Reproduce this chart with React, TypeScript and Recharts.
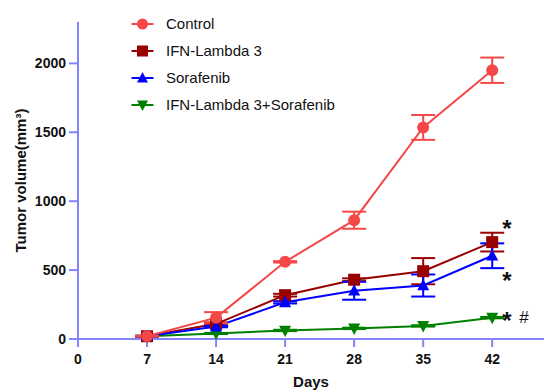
import React from "react";
import { LineChart, Line, XAxis, YAxis, ErrorBar } from "recharts";

const days = [7, 14, 21, 28, 35, 42];
const xTicks = [0, 7, 14, 21, 28, 35, 42];
const yTicks = [0, 500, 1000, 1500, 2000];

const controlMean = [20, 155, 560, 862, 1535, 1950];
const controlErr = [3, 40, 5, 62, 90, 92];
const ifnMean = [20, 110, 318, 430, 492, 703];
const ifnErr = [3, 10, 10, 10, 95, 68];
const soraMean = [20, 90, 266, 350, 388, 604];
const soraErr = [3, 5, 8, 65, 80, 90];
const comboMean = [20, 40, 62, 77, 95, 155];
const comboErr = [3, 4, 5, 5, 5, 5];

const names = ["Control", "IFN-Lambda 3", "Sorafenib", "IFN-Lambda 3+Sorafenib"];
const colors = ["#F44848", "#990000", "#0000FF", "#008000"];
const shapes = ["circle", "square", "up", "down"];
const marks = ["", "*", "*", "* #"];

const data = days.map((d, i) => ({
  day: d,
  control: controlMean[i],
  controlErr: controlErr[i],
  ifn: ifnMean[i],
  ifnErr: ifnErr[i],
  sora: soraMean[i],
  soraErr: soraErr[i],
  combo: comboMean[i],
  comboErr: comboErr[i],
}));

const FONT = "'Liberation Sans', Arial, sans-serif";
const AXIS = "#8484FF";

function Marker({ shape, cx, cy, color, s = 6 }: any) {
  if (shape === "circle") return <circle cx={cx} cy={cy} r={s} fill={color} />;
  if (shape === "square")
    return <rect x={cx - s} y={cy - s} width={2 * s} height={2 * s} fill={color} />;
  if (shape === "up")
    return (
      <polygon
        points={`${cx - s},${cy + s * 0.8} ${cx + s},${cy + s * 0.8} ${cx},${cy - s * 1.1}`}
        fill={color}
      />
    );
  return (
    <polygon
      points={`${cx - s},${cy - s * 0.8} ${cx + s},${cy - s * 0.8} ${cx},${cy + s * 1.1}`}
      fill={color}
    />
  );
}

const makeDot = (k: number) => (props: any) => (
  <Marker key={`dot-${k}-${props.index}`} shape={shapes[k]} cx={props.cx} cy={props.cy} color={colors[k]} />
);

const makeLabel = (k: number) => (props: any) => {
  if (props.index !== days.length - 1 || !marks[k]) return <g key={`lb-${k}-${props.index}`} />;
  const dyMap = [0, -17, 21, -1];
  const x = props.x + 10;
  const y = props.y + dyMap[k];
  const parts = marks[k].split(" ");
  return (
    <g key={`lb-${k}-${props.index}`}>
      <text x={x} y={y + 12} fontSize={24} fontWeight="bold" fontFamily={FONT} fill="#111">
        {parts[0]}
      </text>
      {parts[1] && (
        <text x={x + 17} y={y + 6} fontSize={17} fontFamily={FONT} fill="#111">
          {parts[1]}
        </text>
      )}
    </g>
  );
};

const seriesKeys = ["control", "ifn", "sora", "combo"];
const drawOrder = [3, 1, 2, 0];

export default function App() {
  return (
    <div style={{ position: "absolute", left: 0, top: 0, width: 544, height: 390, background: "#fff" }}>
      <LineChart
        width={544}
        height={390}
        data={data}
        margin={{ top: 22, right: 0, left: 0, bottom: 0 }}
      >
        <XAxis
          type="number"
          dataKey="day"
          domain={[0, 47.25]}
          ticks={xTicks}
          allowDataOverflow
          height={51}
          stroke={AXIS}
          strokeWidth={2}
          tickSize={8}
          tickMargin={7}
          tick={{ fill: "#111", fontSize: 14, fontWeight: "bold", fontFamily: FONT }}
          label={{
            value: "Days",
            position: "insideBottom",
            offset: 3,
            fill: "#111",
            fontSize: 15,
            fontWeight: "bold",
            fontFamily: FONT,
          }}
        />
        <YAxis
          type="number"
          domain={[0, 2300]}
          ticks={yTicks}
          width={78}
          stroke={AXIS}
          strokeWidth={2}
          tickSize={9}
          tickMargin={3}
          tick={{ fill: "#111", fontSize: 14, fontWeight: "bold", fontFamily: FONT }}
          label={{
            content: (p: any) => {
              const vb = p.viewBox || {};
              const cy = (vb.y ?? 22) + (vb.height ?? 316) / 2;
              return (
                <text
                  x={20}
                  y={cy}
                  transform={`rotate(-90 20 ${cy})`}
                  textAnchor="middle"
                  dominantBaseline="central"
                  fontSize={15}
                  fontWeight="bold"
                  fontFamily={FONT}
                  fill="#111"
                >
                  Tumor volume(mm³)
                </text>
              );
            },
          }}
        />
        {drawOrder.map((k) => (
          <Line
            key={seriesKeys[k]}
            type="linear"
            dataKey={seriesKeys[k]}
            stroke={colors[k]}
            strokeWidth={2}
            dot={makeDot(k)}
            activeDot={false}
            label={makeLabel(k)}
            isAnimationActive={false}
          >
            <ErrorBar
              dataKey={`${seriesKeys[k]}Err`}
              width={12}
              strokeWidth={2}
              stroke={colors[k]}
              direction="y"
              isAnimationActive={false}
            />
          </Line>
        ))}
      </LineChart>
      <div style={{ position: "absolute", left: 125, top: 10, fontFamily: FONT }}>
        {names.map((n, k) => (
          <div key={n} style={{ display: "flex", alignItems: "center", height: 27 }}>
            <svg width={34} height={20} style={{ display: "block" }}>
              <line x1={6.5} y1={10} x2={28.5} y2={10} stroke={colors[k]} strokeWidth={2} />
              <Marker shape={shapes[k]} cx={17.5} cy={10} color={colors[k]} s={5.5} />
            </svg>
            <span style={{ marginLeft: 7, fontSize: 15, color: "#111", lineHeight: "20px" }}>{n}</span>
          </div>
        ))}
      </div>
    </div>
  );
}
